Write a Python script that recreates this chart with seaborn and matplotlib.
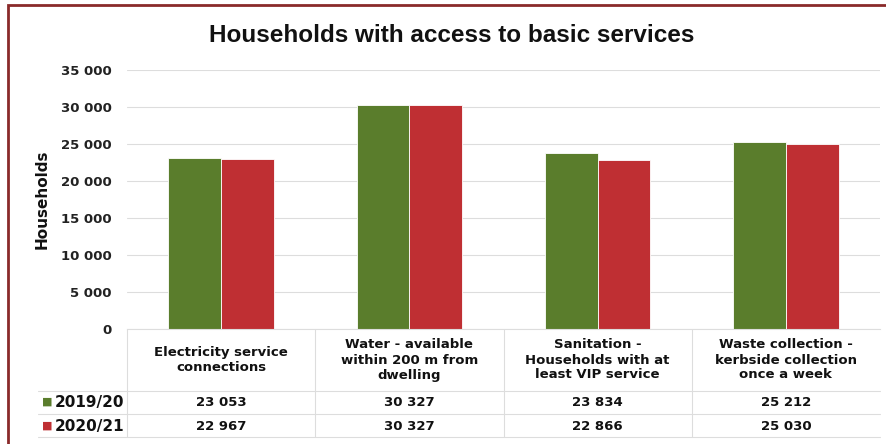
import matplotlib
matplotlib.use("Agg")
import matplotlib.pyplot as plt
from matplotlib.patches import Rectangle
from matplotlib.lines import Line2D
from matplotlib.ticker import FuncFormatter
import seaborn as sns
import pandas as pd

# Data
categories = [
    "Electricity service\nconnections",
    "Water - available\nwithin 200 m from\ndwelling",
    "Sanitation -\nHouseholds with at\nleast VIP service",
    "Waste collection -\nkerbside collection\nonce a week",
]
years = ["2019/20", "2020/21"]
values_2019_20 = [23053, 30327, 23834, 25212]
values_2020_21 = [22967, 30327, 22866, 25030]
y_ticks = [0, 5000, 10000, 15000, 20000, 25000, 30000, 35000]

colors = {"2019/20": "#5A7D2C", "2020/21": "#BF2F33"}

df = pd.DataFrame({
    "category": categories * 2,
    "year": [years[0]] * 4 + [years[1]] * 4,
    "households": values_2019_20 + values_2020_21,
})

sns.set_theme(style="white")
plt.rcParams["font.family"] = ["DejaVu Sans"]
plt.rcParams["font.weight"] = "bold"

W, H = 886, 444
fig = plt.figure(figsize=(W / 100, H / 100), dpi=100)
fig.patch.set_facecolor("white")

left_px, right_px, top_px, bot_px = 127, 880, 70, 329
ax = fig.add_axes([left_px / W, 1 - bot_px / H,
                   (right_px - left_px) / W, (bot_px - top_px) / H])

sns.barplot(data=df, x="category", y="households", hue="year",
            hue_order=years, palette=colors, width=0.56,
            edgecolor="white", linewidth=0.6, saturation=1,
            legend=False, ax=ax)

ax.set_ylim(0, 35000)
ax.set_xlim(-0.5, len(categories) - 0.5)
ax.set_yticks(y_ticks)
ax.yaxis.set_major_formatter(FuncFormatter(lambda v, p: f"{v:,.0f}".replace(",", " ")))
ax.tick_params(axis="y", length=0, pad=11, labelsize=9.5, colors="#222222")
for t in ax.get_yticklabels():
    t.set_fontweight("bold")
ax.set_xticks([])
ax.set_xlabel("")
ax.set_ylabel("Households", fontsize=11, fontweight="bold", color="#111111")
ax.yaxis.set_label_coords((50 - left_px) / (right_px - left_px), 0.5)
ax.grid(axis="y", color="#DDDDDD", linewidth=0.8)
ax.set_axisbelow(True)
for s in ["top", "right", "left"]:
    ax.spines[s].set_visible(False)
ax.spines["bottom"].set_color("#DDDDDD")
ax.spines["bottom"].set_linewidth(0.8)

# Data table below the bars
plot_h = bot_px - top_px
def ay(py):
    return (bot_px - py) / plot_h

def dx(px):
    return (px - left_px) / ((right_px - left_px) / len(categories)) - 0.5

tr = ax.get_xaxis_transform()
line_kw = dict(color="#DDDDDD", linewidth=0.8, transform=tr, clip_on=False)

for py in [391, 414, 437]:
    ax.add_line(Line2D([dx(38), dx(right_px)], [ay(py), ay(py)], **line_kw))
for i in range(len(categories)):
    xb = i - 0.5
    ax.add_line(Line2D([xb, xb], [ay(bot_px), ay(437)], **line_kw))

for i, cat in enumerate(categories):
    ax.text(i, ay(360), cat, transform=tr, ha="center", va="center",
            fontsize=9.5, fontweight="bold", color="#111111",
            linespacing=1.2, clip_on=False)

row_y = [ay(402), ay(426)]
for yr, vals, yy in zip(years, [values_2019_20, values_2020_21], row_y):
    ax.text(dx(42), yy, "\u25A0", transform=tr, ha="left", va="center",
            fontsize=8, color=colors[yr], clip_on=False)
    ax.text(dx(55), yy, yr, transform=tr, ha="left", va="center",
            fontsize=11, fontweight="bold", color="#111111", clip_on=False)
    for i, v in enumerate(vals):
        ax.text(i, yy, f"{v:,}".replace(",", " "), transform=tr,
                ha="center", va="center", fontsize=9.5, fontweight="bold",
                color="#111111", clip_on=False)

fig.text(0.51, 1 - 35 / H, "Households with access to basic services",
         ha="center", va="center", fontsize=17.5, fontweight="bold",
         color="#111111", family=["Liberation Sans", "DejaVu Sans"])

# Frame around the chart
fig.add_artist(Rectangle((8 / W, -0.2), 1.2, 1.2 - 5 / H,
                         transform=fig.transFigure, fill=False,
                         edgecolor="#8A2A2A", linewidth=2.0))

fig.savefig("out.png", dpi=100, facecolor="white")
